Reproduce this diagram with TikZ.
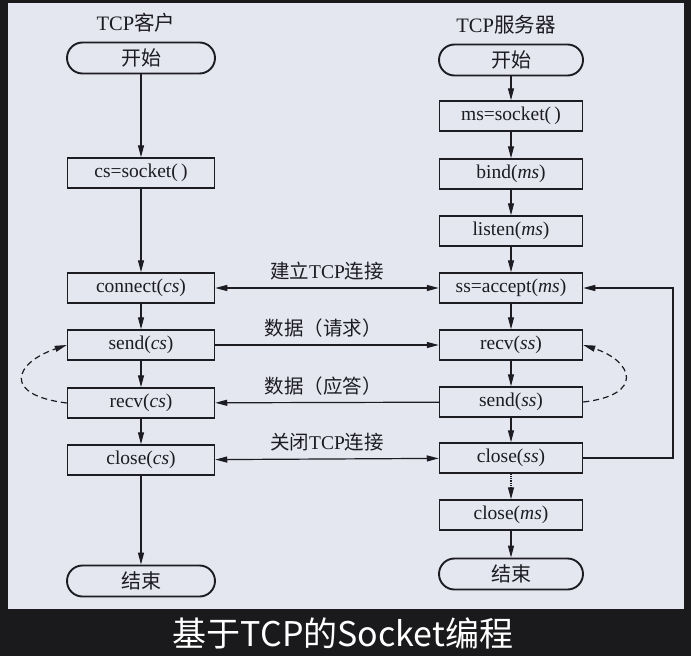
\documentclass[tikz,border=0pt]{standalone}
\usepackage{fontspec}
\setmainfont{Liberation Serif}
\newfontfamily\cjk{Noto Sans CJK SC}
\usetikzlibrary{arrows.meta}
\definecolor{panel}{RGB}{228,230,240}
\definecolor{dark}{RGB}{26,26,28}
\definecolor{ink}{RGB}{28,28,34}
\begin{document}
\begin{tikzpicture}[x=1pt,y=-1pt,
  every node/.style={text=ink},
  box/.style={draw=ink, line width=1.5pt, fill=panel, minimum height=30pt, inner sep=0pt, font=\fontsize{19.5}{19.5}\selectfont},
  cbox/.style={box, minimum width=147pt},
  sbox/.style={box, minimum width=143pt},
  term/.style={draw=ink, line width=1.9pt, fill=panel, rounded corners=15.5pt, minimum height=31pt, inner sep=0pt, font=\cjk\fontsize{20}{20}\selectfont},
  title/.style={font=\fontsize{20.5}{20.5}\selectfont, inner sep=0pt},
  lbl/.style={font=\fontsize{19.5}{19.5}\selectfont, inner sep=0pt},
  arr/.style={draw=ink, line width=1.2pt, -{Triangle[length=12pt,width=6pt]}},
  darr/.style={draw=ink, line width=1.2pt, {Triangle[length=12pt,width=6pt]}-{Triangle[length=12pt,width=6pt]}}]
\useasboundingbox (0,0) rectangle (691,656);
\fill[dark] (0,0) rectangle (691,656);
\fill[panel] (8,3) rectangle (684,609);
% titles
\node[title] (tc) at (136,23) {TCP{\cjk 客户}};
\node[title] (ts) at (506,25) {TCP{\cjk 服务器}};
% client
\node[term, minimum width=148pt] (cstart) at (141,58) {开始};
\node[cbox] (csock) at (141,173) {cs=socket(\,)};
\node[cbox] (conn) at (141,288) {connect(\textit{cs})};
\node[cbox] (csend) at (141,345) {send(\textit{cs})};
\node[cbox] (crecv) at (141,403) {recv(\textit{cs})};
\node[cbox] (cclose) at (141,460) {close(\textit{cs})};
\node[term, minimum width=148pt] (cend) at (141,581) {结束};
% server
\node[term, minimum width=144pt] (sstart) at (511,60) {开始};
\node[sbox] (msock) at (511,116) {ms=socket(\,)};
\node[sbox] (bind) at (511,174) {bind(\textit{ms})};
\node[sbox] (listen) at (511,231) {listen(\textit{ms})};
\node[sbox] (accept) at (511,288) {ss=accept(\textit{ms})};
\node[sbox] (srecv) at (511,345) {recv(\textit{ss})};
\node[sbox] (ssend) at (511,402) {send(\textit{ss})};
\node[sbox] (sclose) at (511,458) {close(\textit{ss})};
\node[sbox] (msclose) at (511,515) {close(\textit{ms})};
\node[term, minimum width=144pt] (send) at (511,574) {结束};
% client flow
\draw[arr] (cstart) -- (csock);
\draw[arr] (csock) -- (conn);
\draw[arr] (conn) -- (csend);
\draw[arr] (csend) -- (crecv);
\draw[arr] (crecv) -- (cclose);
\draw[arr] (cclose) -- (cend);
% server flow
\draw[arr] (sstart) -- (msock);
\draw[arr] (msock) -- (bind);
\draw[arr] (bind) -- (listen);
\draw[arr] (listen) -- (accept);
\draw[arr] (accept) -- (srecv);
\draw[arr] (srecv) -- (ssend);
\draw[arr] (ssend) -- (sclose);
\draw[arr, densely dotted] (sclose) -- (msclose);
\draw[arr] (msclose) -- (send);
% cross connections
\draw[darr] (conn) -- node[lbl, above=7pt] (l1) {{\cjk 建立}TCP{\cjk 连接}} (accept);
\draw[arr] (csend) -- node[lbl, above=7pt, xshift=-4pt] (l2) {\cjk 数据（请求）} (srecv);
\draw[arr] (ssend) -- node[lbl, above=7pt, xshift=-4pt] (l3) {\cjk 数据（应答）} (crecv);
\draw[darr] (cclose) -- node[lbl, above=7pt] (l4) {{\cjk 关闭}TCP{\cjk 连接}} (sclose);
% loop back
\coordinate (loopx) at (673,0);
\draw[arr] (sclose.east) -- (sclose.east -| loopx) -- (accept.east -| loopx) -- (accept.east);
% dashed loops
\draw[arr, dashed, dash pattern=on 6pt off 4pt] (crecv.west) .. controls (2,395) and (14,363) .. (csend.west);
\draw[arr, dashed, dash pattern=on 6pt off 4pt] (ssend.east) .. controls (645,395) and (633,361) .. (srecv.east);
% caption
\node[font=\cjk\fontsize{34}{34}\selectfont, text=white, inner sep=0pt] (cap) at (343,633) {基于TCP的Socket编程};
\end{tikzpicture}
\end{document}
